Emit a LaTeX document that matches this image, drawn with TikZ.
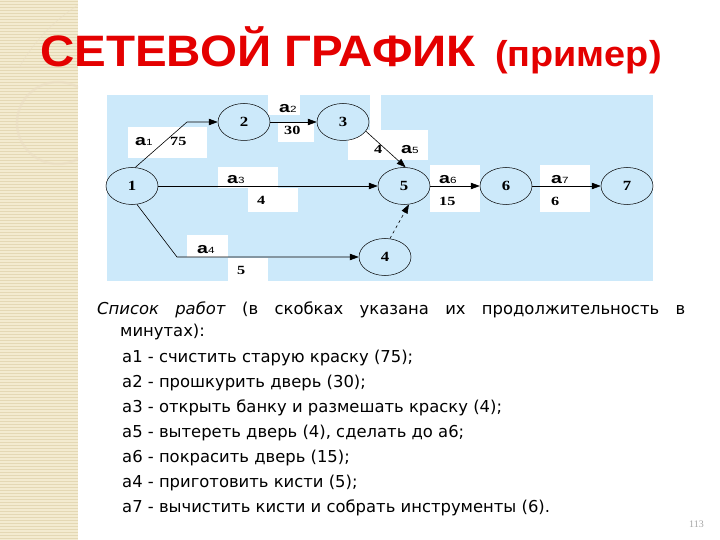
\documentclass[tikz,border=0pt]{standalone}
\usepackage{fontspec}
\setmainfont{DejaVu Sans}
\newfontfamily\titlefont{Liberation Sans}
\newfontfamily\serifnum{Liberation Serif}
\usetikzlibrary{shapes.geometric,arrows.meta}
\definecolor{diagblue}{RGB}{204,233,250}
\definecolor{titlered}{RGB}{228,0,0}
\definecolor{stripbeige}{RGB}{243,235,208}
\definecolor{stripline}{RGB}{228,216,180}
\newcommand\alab[1]{\scalebox{1.3}[1]{{\titlefont\bfseries\fontsize{15}{15}\selectfont a}{\titlefont\fontsize{9}{9}\selectfont #1}}}
\newcommand\nlab[1]{\scalebox{1.3}[1]{\serifnum\bfseries\fontsize{12.5}{12.5}\selectfont #1}}
\tikzset{
  ev/.style={ellipse, draw, line width=0.5pt, fill=diagblue, minimum width=52pt, minimum height=37pt, inner sep=0pt, font=\serifnum\bfseries\fontsize{14}{14}\selectfont},
  wbox/.style={fill=white, draw=none, inner sep=0pt},
  arr/.style={-{Triangle[length=9pt,width=6.5pt]}, line width=0.6pt},
  lab/.style={anchor=base west, inner sep=0pt},
  listline/.style={anchor=base west, inner sep=0pt, font=\fontsize{16.4}{16.4}\selectfont}
}
\begin{document}
\begin{tikzpicture}[x=1pt,y=-1pt]
\useasboundingbox (0,0) rectangle (720,540);
\fill[white] (0,0) rectangle (720,540);
% left decorative strip
\fill[stripbeige] (0,0) rectangle (78,540);
\foreach \yy in {1,4,...,540} \draw[stripline, line width=0.7pt] (0,\yy) -- (78,\yy);
\begin{scope}
\clip (0,0) rectangle (78,540);
\draw[stripline!80!brown!60, line width=2.5pt, opacity=0.5] (58,123) circle (41);
\draw[stripline!80!brown!60, line width=0.8pt, opacity=0.5] (0,66) -- (78,66);
\draw[stripline!80!brown!60, line width=0.8pt, opacity=0.5] (20,66) .. controls (35,40) and (55,20) .. (78,5);
\end{scope}
% title
\node[lab, text=titlered, font=\titlefont\bfseries\fontsize{44}{44}\selectfont] (title) at (40,67) {\scalebox{1.08}[1]{СЕТЕВОЙ ГРАФИК}};
\node[lab, text=titlered, font=\titlefont\bfseries\fontsize{36}{36}\selectfont] (sub) at (495,67) {\scalebox{1.05}[1]{(пример)}};
% diagram background
\fill[diagblue] (107,95) rectangle (653,281);
% white label boxes
\node[wbox, minimum width=79pt, minimum height=31pt] (b1) at (167.5,142.5) {};
\node[wbox, minimum width=32pt, minimum height=20pt] (b2a) at (284,105) {};
\node[wbox, minimum width=36pt, minimum height=19pt] (b2b) at (296,132.5) {};
\node[wbox, minimum width=11pt, minimum height=36pt] (b5s) at (375.5,113) {};
\node[wbox, minimum width=80pt, minimum height=30pt] (b5) at (388,145) {};
\node[wbox, minimum width=60pt, minimum height=21pt] (b3a) at (248,177.5) {};
\node[wbox, minimum width=50pt, minimum height=24pt] (b3b) at (273,200) {};
\node[wbox, minimum width=41pt, minimum height=22pt] (b4a) at (207.5,246) {};
\node[wbox, minimum width=40pt, minimum height=24pt] (b4b) at (248,270) {};
\node[wbox, minimum width=50pt, minimum height=47pt] (b6) at (455,188.5) {};
\node[wbox, minimum width=50pt, minimum height=47pt] (b7) at (565,188.5) {};
% events
\node[ev] (n1) at (132,186) {\scalebox{1.2}[1]{1}};
\node[ev] (n2) at (244,122) {\scalebox{1.2}[1]{2}};
\node[ev] (n3) at (343,122) {\scalebox{1.2}[1]{3}};
\node[ev] (n4) at (385,257) {\scalebox{1.2}[1]{4}};
\node[ev] (n5) at (404,186) {\scalebox{1.2}[1]{5}};
\node[ev] (n6) at (506,186) {\scalebox{1.2}[1]{6}};
\node[ev] (n7) at (627,186) {\scalebox{1.2}[1]{7}};
\coordinate (c1) at (187,122);
\coordinate (c4) at (177,257);
% activities
\draw[arr] (n1.80) -- (c1) -- (n2);
\draw[arr] (n2) -- (n3);
\draw[arr] (n1) -- (n5);
\draw[arr] (n1.-75) -- (c4) -- (n4);
\draw[arr] (n3.-22) -- (n5.85);
\draw[arr, dashed] (n4.75) -- (n5.-75);
\draw[arr] (n5) -- (n6);
\draw[arr] (n6) -- (n7);
% labels
\node[lab] (l1a) at (135,146) {\alab{1}};
\node[lab] (l1b) at (170,146) {\nlab{75}};
\node[lab] (l2a) at (279,113) {\alab{2}};
\node[lab] (l2b) at (284,135) {\nlab{30}};
\node[lab] (l3a) at (227,184) {\alab{3}};
\node[lab] (l3b) at (257,205) {\nlab{4}};
\node[lab] (l4a) at (197,253) {\alab{4}};
\node[lab] (l4b) at (237,274) {\nlab{5}};
\node[lab] (l5b) at (374,154) {\nlab{4}};
\node[lab] (l5a) at (401,154) {\alab{5}};
\node[lab] (l6a) at (439,184) {\alab{6}};
\node[lab] (l6b) at (439,206) {\nlab{15}};
\node[lab] (l7a) at (551,184) {\alab{7}};
\node[lab] (l7b) at (551,206) {\nlab{6}};
% list of works
\node[listline] (t0) at (97,314) {\makebox[588pt][s]{\textit{Список работ} (в скобках указана их продолжительность в}};
\node[listline] (t1) at (120,336) {минутах):};
\node[listline] (t2) at (122,362) {а1 - счистить старую краску (75);};
\node[listline] (t3) at (122,387) {а2 - прошкурить дверь (30);};
\node[listline] (t4) at (122,412) {а3 - открыть банку и размешать краску (4);};
\node[listline] (t5) at (122,437) {а5 - вытереть дверь (4), сделать до а6;};
\node[listline] (t6) at (122,462) {а6 - покрасить дверь (15);};
\node[listline] (t7) at (122,487) {а4 - приготовить кисти (5);};
\node[listline] (t8) at (122,512) {а7 - вычистить кисти и собрать инструменты (6).};
\node[lab, text=black!35, font=\serifnum\fontsize{10}{10}\selectfont] (pg) at (689,527) {113};
\end{tikzpicture}
\end{document}
